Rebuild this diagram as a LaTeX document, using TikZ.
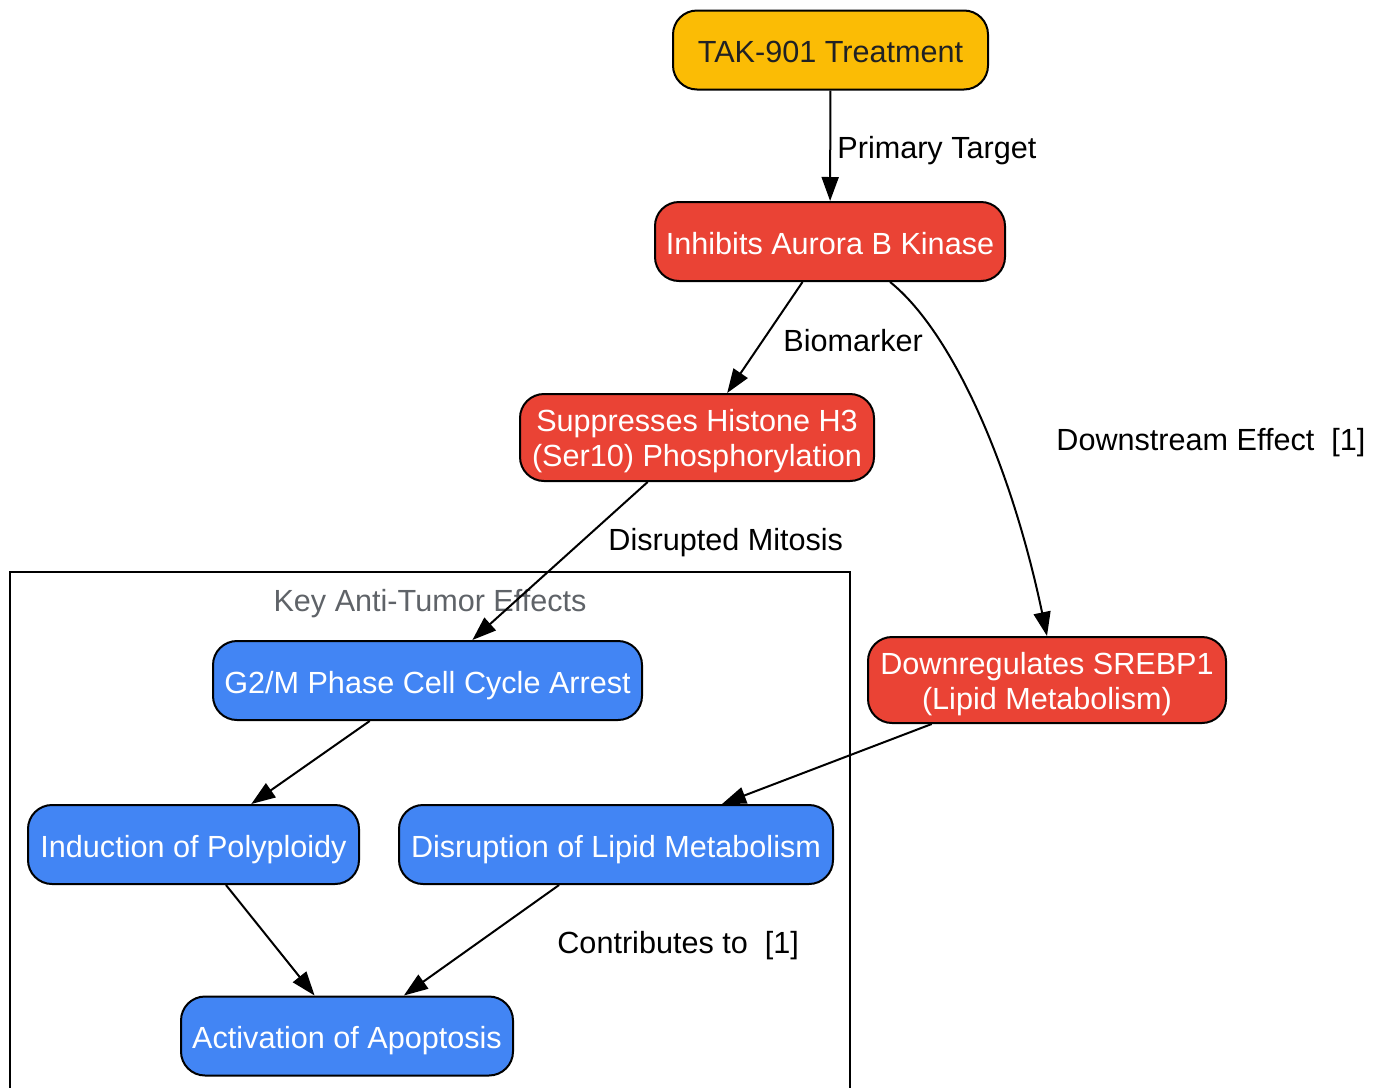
\documentclass[tikz,border=0pt]{standalone}
\usepackage{fontspec}
\setmainfont{Liberation Sans}
\usetikzlibrary{arrows.meta}
\definecolor{tyellow}{HTML}{FBBC05}
\definecolor{tred}{HTML}{EA4335}
\definecolor{tblue}{HTML}{4285F4}
\definecolor{tgray}{HTML}{5F6368}
\definecolor{tdark}{HTML}{202124}

\begin{document}
\begin{tikzpicture}[x=0.5pt,y=-0.5pt,
		box/.style={draw=black,line width=1pt,rounded corners=12pt,align=center,
			minimum height=39.5pt,inner sep=0pt,text height=12.5pt,text depth=0pt,
			font=\fontsize{15.3}{17.5}\selectfont},
		twoline/.style={text height=29.3pt,text depth=0pt},
		redbox/.style={box,fill=tred,text=white},
		bluebox/.style={box,fill=tblue,text=white},
		elabel/.style={anchor=west,inner sep=0pt,text height=12.5pt,text depth=0pt,
			font=\fontsize{15.3}{17.5}\selectfont},
		link/.style={-{Triangle[length=12pt,width=8.5pt]},line width=1pt}]
			\useasboundingbox (0,0) rectangle (1381,1087);
			% cluster
			\draw[line width=1pt] (10,1090) -- (10,572) -- (850,572) -- (850,1090);
			\node[elabel,anchor=center,text=tgray] (clusterlabel) at (430,599) {Key Anti-Tumor Effects};
			% nodes
			\node[box,fill=tyellow,text=tdark,minimum width=157.5pt] (treat) at (830.5,50) {TAK-901 Treatment};
			\node[redbox,minimum width=175pt] (aurora) at (830,241.5) {Inhibits Aurora B Kinase};
			\node[redbox,twoline,minimum width=177pt,minimum height=43.5pt] (histone) at (697,437.5) {Suppresses Histone H3\\(Ser10) Phosphorylation};
			\node[redbox,twoline,minimum width=179pt,minimum height=43pt] (srebp) at (1047,680) {Downregulates SREBP1\\(Lipid Metabolism)};
			\node[bluebox,minimum width=214.5pt] (gtwom) at (427.5,680.5) {G2/M Phase Cell Cycle Arrest};
			\node[bluebox,minimum width=165.5pt] (poly) at (193.5,844.5) {Induction of Polyploidy};
			\node[bluebox,minimum width=217pt] (lipid) at (616,844.5) {Disruption of Lipid Metabolism};
			\node[bluebox,minimum width=166pt] (apop) at (347,1036) {Activation of Apoptosis};
			% edges
			\draw[link] (treat) -- (aurora);
			\draw[link] (aurora) -- (histone);
			\draw[link] (aurora.-34) .. controls (950,330) and (1010,460) .. (srebp.north);
			\draw[link] (histone) -- (gtwom);
			\draw[link] (gtwom) -- (poly);
			\draw[link] (srebp) -- (lipid);
			\draw[link] (poly) -- (apop);
			\draw[link] (lipid) -- (apop);
			% edge labels
			\node[elabel] (lbltarget) at (837,146) {Primary Target};
			\node[elabel] (lblbio) at (783,339) {Biomarker};
			\node[elabel] (lbldown) at (1056,438) {Downstream Effect\ \ [1]};
			\node[elabel] (lblmitosis) at (608,538) {Disrupted Mitosis};
			\node[elabel] (lblcontrib) at (557,941) {Contributes to\ \ [1]};
		\end{tikzpicture}
\end{document}
